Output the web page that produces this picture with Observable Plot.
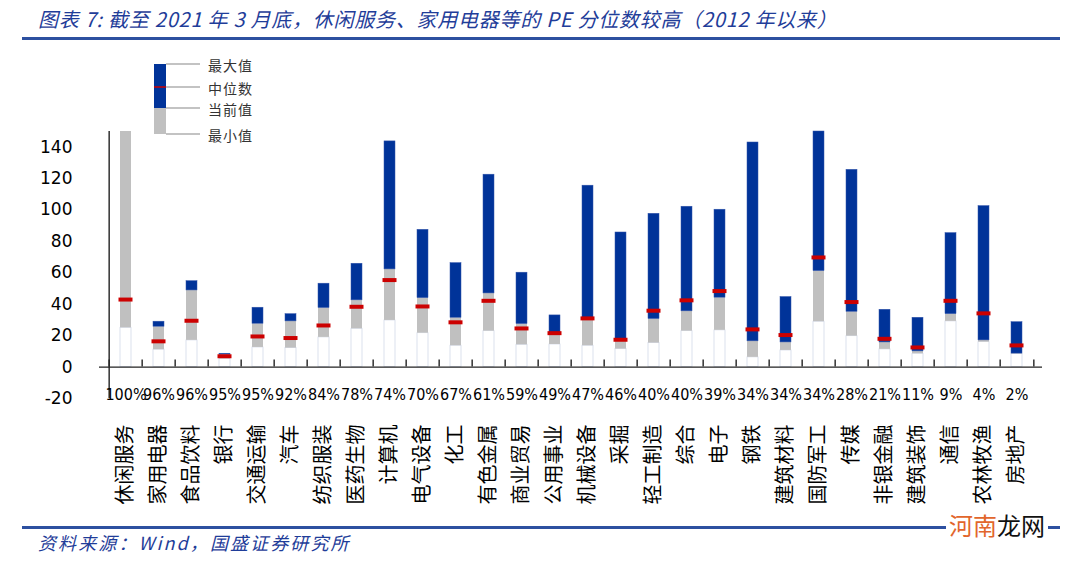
<!DOCTYPE html>
<html><head><meta charset="utf-8">
<script src="https://cdn.jsdelivr.net/npm/d3@7"></script>
<script src="https://cdn.jsdelivr.net/npm/@observablehq/plot@0.6"></script>
<style>
body{margin:0;background:#fff;width:1080px;height:563px;position:relative;overflow:hidden;font-family:"Noto Sans CJK SC",sans-serif}
#title{position:absolute;left:38px;top:4px;font-size:20px;font-style:italic;color:#1f3d99;white-space:nowrap;letter-spacing:0.75px}
.hr{position:absolute;left:22px;width:1038px;height:2.5px;background:#2d50a0}
#chart{position:absolute;left:0;top:50px}
#legend{position:absolute;left:0;top:0}
#foot{position:absolute;left:38px;top:529px;font-size:18px;font-style:italic;color:#1f3d99;white-space:nowrap;letter-spacing:2.1px}
#wm{position:absolute;left:946px;top:510px;font-size:24px;background:#fff;padding:0 3px;line-height:30px}
</style></head><body>
<div id="title">图表 7: 截至 2021 年 3 月底，休闲服务、家用电器等的 PE 分位数较高（2012 年以来）</div>
<div class="hr" style="top:37px"></div>
<div id="chart"></div>
<svg id="legend" width="400" height="145"></svg>
<div class="hr" style="top:526px"></div>
<div id="foot">资料来源：Wind，国盛证券研究所</div>
<div id="wm"><span style="color:#e2662c">河南</span><span style="color:#111">龙网</span></div>
<script>
const cats = ["休闲服务","家用电器","食品饮料","银行","交通运输","汽车","纺织服装","医药生物","计算机","电气设备","化工","有色金属","商业贸易","公用事业","机械设备","采掘","轻工制造","综合","电子","钢铁","建筑材料","国防军工","传媒","非银金融","建筑装饰","通信","农林牧渔","房地产"];
const pctLabels = ["100%","96%","96%","95%","95%","92%","84%","78%","74%","70%","67%","61%","59%","49%","47%","46%","40%","40%","39%","34%","34%","34%","28%","21%","11%","9%","4%","2%"];
const maxV = [150,28.9,54.7,8.5,37.8,33.7,53.1,65.8,143.7,87.4,66.2,122.5,60.1,32.9,115.5,85.7,97.6,102.1,100.2,143,44.6,150,125.6,36.5,31.4,85.3,102.5,28.6];
const curV = [150,25.7,48.8,7.9,27.6,29.1,37.6,42.5,62.2,43.9,31.4,46.9,27.4,21.2,30.5,16.5,30.6,35.5,44.2,16.4,15.7,61.1,35.2,15.7,10.0,33.7,17,8.6];
const medV = [43,16.4,29.5,6.9,19.5,18.5,26.5,38.4,55.4,38.6,28.5,42.2,24.6,21.6,31.0,17.4,35.9,42.5,48.4,24,20.4,69.8,41.4,18,12.5,42.2,34.2,13.8];
const minV = [25,11.1,17,5.3,12.5,12.1,18.9,24.4,29.7,21.6,13.6,22.9,14.2,14.4,13.6,11.5,15.3,22.9,23.4,6.2,10.6,28.9,19.7,11.3,8.5,29.1,15.9,8.3];
const yTicks = [-20,0,20,40,60,80,100,120,140];
const legendLabels = ["最大值","中位数","当前值","最小值"];

const data = cats.map((c,i)=>({c, max:maxV[i], cur:curV[i], med:medV[i], min:minV[i]}));
const pctMap = new Map(cats.map((c,i)=>[c,pctLabels[i]]));
const W=1080,H=470,ML=99,MR=38,MT=81,MB=122;
const step=(W-ML-MR)/cats.length;
const axisStyle={stroke:"#222",strokeWidth:1.4};

const chart = Plot.plot({
  width:W,height:H,marginLeft:ML,marginRight:MR,marginTop:MT,marginBottom:MB,
  style:{background:"transparent",color:"#000"},
  x:{domain:cats,paddingInner:0.67,paddingOuter:0.335,label:null},
  y:{domain:[-20,150],label:null},
  marks:[
    Plot.rectY(data,{x:"c",y1:0,y2:"min",fill:"white",stroke:"#d3d9e8",strokeWidth:0.8}),
    Plot.rectY(data,{x:"c",y1:"min",y2:"cur",fill:"#c0c0c0"}),
    Plot.rectY(data,{x:"c",y1:"cur",y2:"max",fill:"#003399",stroke:"#3355aa",strokeWidth:0.5}),
    Plot.tickY(data,{x:"c",y:"med",stroke:"#cc0000",strokeWidth:4,insetLeft:-1.5,insetRight:-1.5}),
    Plot.ruleY([0],axisStyle),
    Plot.ruleX(cats,{x:d=>d,dx:-step/2,y1:0,y2:4.5,...axisStyle}),
    Plot.ruleX([cats[cats.length-1]],{x:d=>d,dx:step/2,y1:0,y2:4.5,...axisStyle}),
    Plot.ruleX([cats[0]],{x:d=>d,dx:-step/2,y1:-20,y2:150,...axisStyle}),
    Plot.axisY({ticks:yTicks,tickFormat:d=>String(d),tickSize:0,tickPadding:27,fontSize:17,fontFamily:"DejaVu Sans",label:null}),
    Plot.axisX({tickSize:0,tickPadding:26,tickRotate:-90,fontSize:20,fontFamily:"Noto Sans CJK SC",label:null}),
    Plot.axisX({tickSize:0,tickPadding:0,dy:-4,lineAnchor:"middle",tickFormat:d=>pctMap.get(d),fontSize:16,fontFamily:"DejaVu Sans Condensed, DejaVu Sans",label:null})
  ]
});
document.getElementById("chart").appendChild(chart);

// legend
const lg = d3.select("#legend");
lg.append("rect").attr("x",154).attr("y",64).attr("width",12).attr("height",44).attr("fill","#003399");
lg.append("rect").attr("x",154).attr("y",108).attr("width",12).attr("height",26).attr("fill","#c0c0c0");
lg.append("line").attr("x1",154).attr("x2",166).attr("y1",87).attr("y2",87).attr("stroke","#cc0000").attr("stroke-width",1.5);
const ly=[64,87,108,134];
ly.forEach((y,i)=>{
  lg.append("line").attr("x1",166).attr("x2",200).attr("y1",y).attr("y2",y).attr("stroke","#888").attr("stroke-width",1.2);
  lg.append("text").attr("x",208).attr("y",y+1).attr("dominant-baseline","central").attr("font-size",14).attr("letter-spacing",1).attr("fill","#333").attr("font-family","Noto Sans CJK SC").text(legendLabels[i]);
});
</script>
</body></html>
